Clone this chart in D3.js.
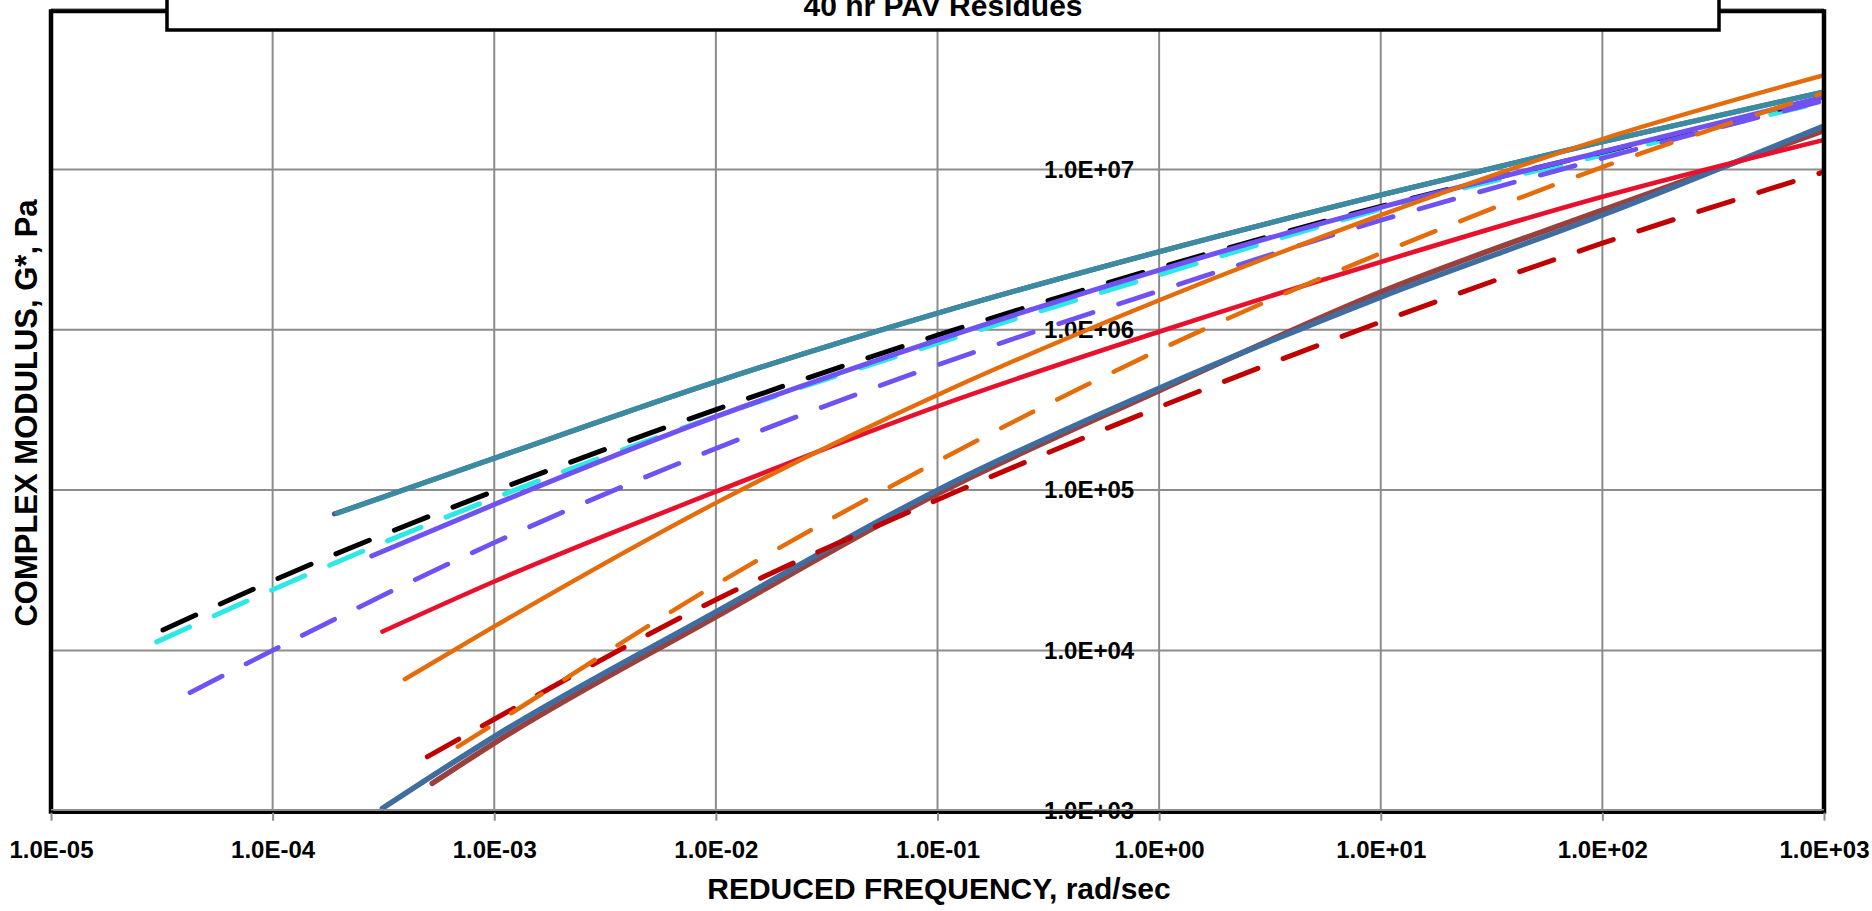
<!DOCTYPE html>
<html>
<head>
<meta charset="utf-8">
<script src="https://cdn.jsdelivr.net/npm/d3@7"></script>
<style>
  body { margin: 0; background: #fff; }
  svg { display: block; font-family: 'Liberation Sans', Arial, sans-serif; font-weight: bold; }
</style>
</head>
<body>
<svg id="chart"></svg>
<script>
// decade ticks
const xTicks = [1e-5, 1e-4, 1e-3, 1e-2, 1e-1, 1e0, 1e1, 1e2, 1e3];
const yTicks = [1e3, 1e4, 1e5, 1e6, 1e7];
const yGrid = [1e3, 1e4, 1e5, 1e6, 1e7, 1e8];

// [reduced frequency rad/sec, G* Pa]
const darkPurpleSolid = [[1.9e-4, 7.1e4], [1e-3, 1.58e5], [1e-2, 4.74e5], [1e-1, 1.27e6], [1e0, 3.07e6], [1e1, 6.93e6], [1e2, 1.49e7], [1e3, 3.05e7]];
const tealSolid = [[1.95e-4, 7.16e4], [1e-3, 1.58e5], [1e-2, 4.74e5], [1e-1, 1.27e6], [1e0, 3.07e6], [1e1, 6.93e6], [1e2, 1.49e7], [1e3, 3.05e7]];
const cyanDashed = [[3.0e-5, 1.13e4], [1e-4, 2.39e4], [1e-3, 8.91e4], [1e-2, 2.88e5], [1e-1, 8.24e5], [1e0, 2.2e6], [1e1, 5.65e6], [1e2, 1.23e7], [1e3, 2.65e7]];
const blackDashed = [[3.2e-5, 1.34e4], [1e-4, 2.72e4], [1e-3, 9.86e4], [1e-2, 3.18e5], [1e-1, 9.25e5], [1e0, 2.44e6], [1e1, 5.89e6], [1e2, 1.285e7], [1e3, 2.78e7]];
const purpleDashed = [[4.24e-5, 5.45e3], [1e-4, 1.0e4], [1e-3, 4.7e4], [1e-2, 1.82e5], [1e-1, 6.03e5], [1e0, 1.75e6], [1e1, 4.82e6], [1e2, 1.175e7], [1e3, 2.69e7]];
const purpleSolid = [[2.8e-4, 3.88e4], [1e-3, 8.13e4], [1e-2, 2.87e5], [1e-1, 8.63e5], [1e0, 2.36e6], [1e1, 5.81e6], [1e2, 1.29e7], [1e3, 2.84e7]];
const brownSolid = [[5.25e-4, 1.48e3], [1e-3, 2.64e3], [1e-2, 1.62e4], [1e-1, 9.48e4], [1e0, 4.17e5], [1e1, 1.72e6], [1e2, 5.58e6], [1e3, 1.75e7]];
const blueSolid = [[3.13e-4, 1.035e3], [1e-3, 2.9e3], [1e-2, 1.74e4], [1e-1, 1.0e5], [1e0, 4.32e5], [1e1, 1.6e6], [1e2, 5.2e6], [1e3, 1.87e7]];
const redSolid = [[3.13e-4, 1.31e4], [1e-3, 2.69e4], [1e-2, 9.77e4], [1e-1, 3.33e5], [1e0, 9.73e5], [1e1, 2.65e6], [1e2, 6.76e6], [1e3, 1.53e7]];
const darkRedDashed = [[4.99e-4, 2.17e3], [1e-3, 3.72e3], [1e-2, 2.07e4], [1e-1, 8.71e4], [1e0, 3.29e5], [1e1, 1.12e6], [1e2, 3.47e6], [1e3, 9.66e6]];
const orangeDashed = [[6.85e-4, 2.51e3], [1e-3, 3.48e3], [1e-2, 2.57e4], [1e-1, 1.51e5], [1e0, 7.48e5], [1e1, 3.0e6], [1e2, 1.035e7], [1e3, 3.01e7]];
const orangeSolid = [[3.95e-4, 6.61e3], [1e-3, 1.41e4], [1e-2, 8.32e4], [1e-1, 3.92e5], [1e0, 1.53e6], [1e1, 5.19e6], [1e2, 1.55e7], [1e3, 3.88e7]];

const series = [
  { data: darkPurpleSolid, color: '#604a7b', width: 5, dashed: false },
  { data: tealSolid, color: '#3b8ca2', width: 5.2, dashed: false },
  { data: cyanDashed, color: '#2ee8e6', width: 5, dashed: true },
  { data: blackDashed, color: '#000000', width: 5, dashed: true },
  { data: purpleDashed, color: '#7052f2', width: 4.8, dashed: true },
  { data: purpleSolid, color: '#7052f2', width: 5, dashed: false },
  { data: brownSolid, color: '#9a403d', width: 5.5, dashed: false },
  { data: blueSolid, color: '#3f6d9f', width: 5.5, dashed: false },
  { data: redSolid, color: '#e8112d', width: 4.6, dashed: false },
  { data: darkRedDashed, color: '#c00000', width: 5, dashed: true },
  { data: orangeDashed, color: '#e46c0a', width: 4.5, dashed: true },
  { data: orangeSolid, color: '#e46c0a', width: 4.4, dashed: false },
];

const width = 1872;
const height = 911;
const plot = { left: 51, right: 1824, top: 9.2, bottom: 810.7 };

const svg = d3.select('#chart').attr('width', width).attr('height', height);

const x = d3.scaleLog().domain([1e-5, 1e3]).range([plot.left, plot.right]);
const y = d3.scaleLog().domain([1e3, 1e8]).range([plot.bottom, plot.top]);

const sci = (d) => {
  const e = Math.round(Math.log10(d));
  return `1.0E${e < 0 ? '-' : '+'}${String(Math.abs(e)).padStart(2, '0')}`;
};

// gridlines
const grid = svg.append('g').attr('stroke', '#8c8c8c').attr('stroke-width', 2);
grid
  .selectAll('line.v')
  .data(xTicks)
  .enter()
  .append('line')
  .attr('x1', (d) => x(d))
  .attr('x2', (d) => x(d))
  .attr('y1', plot.top)
  .attr('y2', plot.bottom);
grid
  .selectAll('line.h')
  .data(yGrid)
  .enter()
  .append('line')
  .attr('x1', plot.left)
  .attr('x2', plot.right)
  .attr('y1', (d) => y(d))
  .attr('y2', (d) => y(d));

// y labels sit on the 1.0E+00 line
const yAxis = svg
  .append('g')
  .attr('transform', `translate(${x(1)},0)`)
  .call(d3.axisLeft(y).tickValues(yTicks).tickFormat(sci).tickSize(0).tickPadding(25));
yAxis.select('.domain').remove();

svg
  .append('clipPath')
  .attr('id', 'clip')
  .append('rect')
  .attr('x', plot.left)
  .attr('y', plot.top)
  .attr('width', plot.right - plot.left)
  .attr('height', plot.bottom - plot.top);

const line = d3
  .line()
  .x((d) => x(d[0]))
  .y((d) => y(d[1]))
  .curve(d3.curveMonotoneX);

svg
  .append('g')
  .attr('clip-path', 'url(#clip)')
  .selectAll('path')
  .data(series)
  .enter()
  .append('path')
  .attr('d', (s) => line(s.data))
  .attr('fill', 'none')
  .attr('stroke', (s) => s.color)
  .attr('stroke-width', (s) => s.width)
  .attr('stroke-linecap', 'round')
  .attr('stroke-dasharray', (s) => (s.dashed ? '36 27' : null));

// frame
const frame = svg.append('g').attr('stroke', '#000');
frame.append('line').attr('x1', plot.left).attr('x2', plot.left).attr('y1', plot.top).attr('y2', plot.bottom + 3).attr('stroke-width', 4.5);
frame.append('line').attr('x1', plot.right).attr('x2', plot.right).attr('y1', plot.top).attr('y2', plot.bottom + 3).attr('stroke-width', 4.5);
frame.append('line').attr('x1', plot.left).attr('x2', plot.right).attr('y1', plot.top + 2).attr('y2', plot.top + 2).attr('stroke-width', 4);
frame.append('line').attr('x1', plot.left).attr('x2', plot.right).attr('y1', plot.bottom + 1.8).attr('y2', plot.bottom + 1.8).attr('stroke-width', 3);
svg.append('line').attr('x1', plot.left).attr('x2', plot.right).attr('y1', plot.bottom - 1).attr('y2', plot.bottom - 1).attr('stroke', '#8c8c8c').attr('stroke-width', 1.5);

// x axis
const xAxis = svg
  .append('g')
  .attr('transform', `translate(0,${plot.bottom + 2})`)
  .call(d3.axisBottom(x).tickValues(xTicks).tickFormat(sci).tickSize(8).tickPadding(20));
xAxis.select('.domain').remove();
xAxis.selectAll('.tick line').attr('stroke', '#8c8c8c').attr('stroke-width', 2);

svg
  .selectAll('.tick text')
  .attr('fill', '#000')
  .style('font-family', "'Liberation Sans', Arial, sans-serif")
  .style('font-weight', 'bold')
  .style('font-size', '24px');

// title box
svg
  .append('rect')
  .attr('x', 167)
  .attr('y', -10)
  .attr('width', 1552)
  .attr('height', 40)
  .attr('fill', '#fff')
  .attr('stroke', '#000')
  .attr('stroke-width', 3.5);
svg
  .append('text')
  .attr('x', 943)
  .attr('y', 16)
  .attr('text-anchor', 'middle')
  .style('font-size', '30px')
  .text('40 hr PAV Residues');

svg
  .append('text')
  .attr('x', 939)
  .attr('y', 899)
  .attr('text-anchor', 'middle')
  .style('font-size', '30px')
  .text('REDUCED FREQUENCY, rad/sec');

svg
  .append('text')
  .attr('transform', 'translate(37,413) rotate(-90)')
  .attr('text-anchor', 'middle')
  .style('font-size', '31px')
  .text('COMPLEX MODULUS, G*, Pa');
</script>
</body>
</html>
